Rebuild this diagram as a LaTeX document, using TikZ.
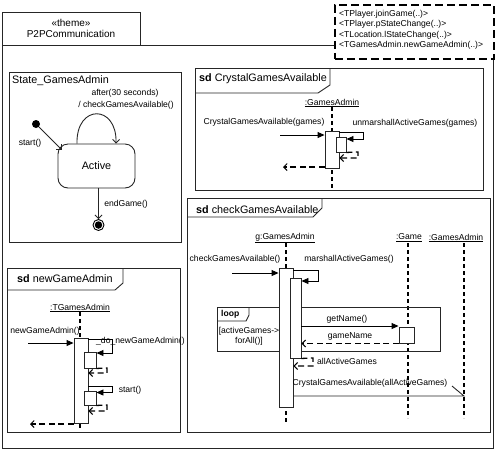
\documentclass[tikz,border=0pt]{standalone}
\usepackage{fontspec}
\setmainfont{Liberation Sans}
\usetikzlibrary{arrows.meta,calc}
\begin{document}
\begin{tikzpicture}[x=1pt,y=-1pt,
  frame/.style={draw=black!85,line width=0.9pt},
  big/.style={font=\fontsize{10.8}{12.5}\selectfont,inner sep=0pt},
  small/.style={font=\fontsize{8.6}{10.5}\selectfont,inner sep=0pt},
  lifeline/.style={draw=black,line width=1.3pt,dash pattern=on 4pt off 3pt},
  act/.style={draw=black!85,fill=white,line width=0.9pt,inner sep=0pt,rectangle},
  msg/.style={draw=black,line width=0.9pt,-{Triangle[length=7pt,width=6pt]}},
  ret/.style={draw=black,line width=1.3pt,dash pattern=on 6pt off 3.5pt,-{Straight Barb[length=3.5pt,width=7pt,line width=1pt]}},
  trans/.style={draw=black!85,line width=0.9pt,-{Straight Barb[length=3.5pt,width=7pt,line width=0.9pt]}}
]
\useasboundingbox (0,0) rectangle (500,451);

% ---------- package ----------
\draw[frame] (2,12) rectangle (140,45);
\draw[frame] (2,45) rectangle (493,448);
\node[font=\fontsize{10}{11}\selectfont,align=center,inner sep=0pt] (pkg) at (71,28.5) {«theme»\\P2PCommunication};

% ---------- note box ----------
\node[draw=black,line width=1.9pt,dash pattern=on 8pt off 4pt,fill=white,minimum width=159pt,minimum height=54pt,anchor=north west,inner sep=0pt] (note) at (334,4) {};
\node[small,anchor=west] (n1) at (339,14) {<TPlayer.joinGame(..)>};
\node[small,anchor=west] (n2) at (339,24.5) {<TPlayer.pStateChange(..)>};
\node[small,anchor=west] (n3) at (339,35) {<TLocation.lStateChange(..)>};
\node[small,anchor=west] (n4) at (339,45.5) {<TGamesAdmin.newGameAdmin(..)>};

% ---------- State_GamesAdmin ----------
\draw[frame] (9,72) rectangle (181,242);
\node[big,anchor=west] (stname) at (12,81) {State\_GamesAdmin};
\node[circle,fill=black,inner sep=0pt,minimum size=8pt] (init) at (36,124) {};
\node[draw=black!85,line width=0.9pt,rounded corners=10pt,minimum width=77pt,minimum height=44pt,big] (active) at (96.5,166) {Active};
\coordinate (startend) at (61.5,149.5);
\draw[trans] (init) -- (startend);
\node[small] (startlbl) at (30,143) {start()};
\draw[trans] ([xshift=-19.5pt]active.north) .. controls (76,104) and (117,104) .. ([xshift=19.5pt]active.north);
\node[small] (after1) at (125,93) {after(30 seconds)};
\node[small] (after2) at (126,105) {/ checkGamesAvailable()};
\node[circle,draw=black,line width=0.9pt,inner sep=0pt,minimum size=11pt] (final) at (98.5,225) {};
\node[circle,fill=black,inner sep=0pt,minimum size=7.5pt] (finaldot) at (final) {};
\draw[trans] (active.south -| final) -- (final);
\node[small] (endlbl) at (126,204) {endGame()};

% ---------- sd CrystalGamesAvailable ----------
\draw[frame] (195,68) rectangle (483,190);
\draw[frame] (195,93) -- (318,93) -- (330,85) -- (330,68);
\node[big,anchor=west] (t1) at (199,78.5) {\textbf{sd} CrystalGamesAvailable};
\node[small] (ga1) at (332,103) {\underline{:GamesAdmin}};
\coordinate (ga1end) at (332,188);
\draw[lifeline] (ga1) -- (ga1end);
\node[act,minimum width=14pt,minimum height=37pt] (b1) at (332,149.5) {};
\node[act,minimum width=10pt,minimum height=15pt] (b1n) at (341,144.5) {};
\coordinate (cin) at (280,135);
\draw[msg] (cin) -- (cin -| b1.west);
\node[small] (l1) at (264,122) {CrystalGamesAvailable(games)};
\draw[msg] (b1.east |- 0,132) -- (363,132) -- (363,139) -- (b1n.east |- 0,139);
\node[small] (l2) at (415,123) {unmarshallActiveGames(games)};
\draw[ret] (b1n.south east) -- (358,152) -- (358,158) -- (b1.east |- 0,158);
\coordinate (cret) at (283,167);
\draw[ret] (b1.west |- cret) -- (cret);

% ---------- sd newGameAdmin ----------
\draw[frame] (7,268) rectangle (180,432);
\draw[frame] (7,290) -- (115,290) -- (123,283) -- (123,268);
\node[big,anchor=west] (t2) at (17,278.5) {\textbf{sd} newGameAdmin};
\node[small] (tga) at (80,308) {\underline{:TGamesAdmin}};
\coordinate (tgaend) at (80,431);
\draw[lifeline] (tga) -- (tgaend);
\node[act,minimum width=14pt,minimum height=85pt] (b2) at (81,380.5) {};
\node[act,minimum width=12pt,minimum height=16pt] (b2n1) at (90,360) {};
\node[act,minimum width=12pt,minimum height=14pt] (b2n2) at (90,398) {};
\coordinate (nin) at (28,343);
\draw[msg] (nin) -- (nin -| b2.west);
\node[small] (l3) at (45,331) {newGameAdmin()};
\draw[msg] (b2.east |- 0,339) -- (112,339) -- (112,353) -- (b2n1.east |- 0,353);
\node[small,anchor=west] (l4) at (96,341) {\_do\_newGameAdmin()};
\draw[ret] (b2n1.south east) -- (107,368) -- (107,373) -- (b2.east |- 0,373);
\draw[msg] (b2.east |- 0,386) -- (112,386) -- (112,392.5) -- (b2n2.east |- 0,392.5);
\node[small] (l5) at (130,390) {start()};
\draw[ret] (b2n2.south east) -- (107,405) -- (107,411) -- (b2.east |- 0,411);
\coordinate (nret) at (30,424);
\draw[ret] (b2.west |- nret) -- (nret);

% ---------- sd checkGamesAvailable ----------
\draw[frame] (187,198) rectangle (490,432);
\draw[frame] (187,217) -- (313,217) -- (322,208) -- (322,198);
\node[big,anchor=west] (t3) at (196,210) {\textbf{sd} checkGamesAvailable};
\node[small] (gga) at (285,238) {\underline{g:GamesAdmin}};
\node[small] (gm) at (409,238) {\underline{:Game}};
\node[small] (gar) at (456,238) {\underline{:GamesAdmin}};
\coordinate (ggaend) at (286,423);
\coordinate (gmtop) at (408,243);
\coordinate (gmend) at (408,418);
\coordinate (gartop) at (464,243);
\coordinate (garend) at (464,418);
\draw[lifeline] (gga.south -| ggaend) -- (ggaend);
\draw[lifeline] (gmtop) -- (gmend);
\draw[lifeline] (gartop) -- (garend);
% loop fragment
\draw[frame] (217,307) rectangle (440,351);
\draw[frame] (217,321) -- (246,321) -- (249,315) -- (249,307);
\node[small,anchor=west] (looplbl) at (221,314.5) {\textbf{loop}};
\node[small,align=center] (guard) at (249,336.5) {[activeGames->\\forAll()]};
% bars
\node[act,minimum width=14pt,minimum height=139pt] (b3) at (286,337.5) {};
\node[act,minimum width=11pt,minimum height=80pt] (b3n) at (295.5,318) {};
\node[act,minimum width=15pt,minimum height=16pt] (gact) at (406.5,335) {};
\coordinate (cgin) at (232,273);
\draw[msg] (cgin) -- (cgin -| b3.west);
\node[small] (l6) at (235,259) {checkGamesAvailable()};
\draw[msg] (b3.east |- 0,270) -- (318,270) -- (318,281) -- (b3n.east |- 0,281);
\node[small] (l7) at (349,259) {marshallActiveGames()};
\draw[msg] (b3n.east |- 0,326) -- (gact.west |- 0,326);
\node[small] (l8) at (347,319) {getName()};
\draw[ret] (gact.south west) -- (b3n.east |- gact.south);
\node[small] (l9) at (350,336.5) {gameName};
\draw[ret] (b3n.south east) -- (313,358) -- (313,366) -- (b3.east |- 0,366);
\node[small] (l10) at (347,361) {allActiveGames};
\coordinate (casy) at (464,396);
\draw[draw=black!85,line width=0.9pt] (b3.east |- casy) -- (casy) -- ++(-12,-10);
\node[small] (l11) at (370,383) {CrystalGamesAvailable(allActiveGames)};
\end{tikzpicture}
\end{document}
